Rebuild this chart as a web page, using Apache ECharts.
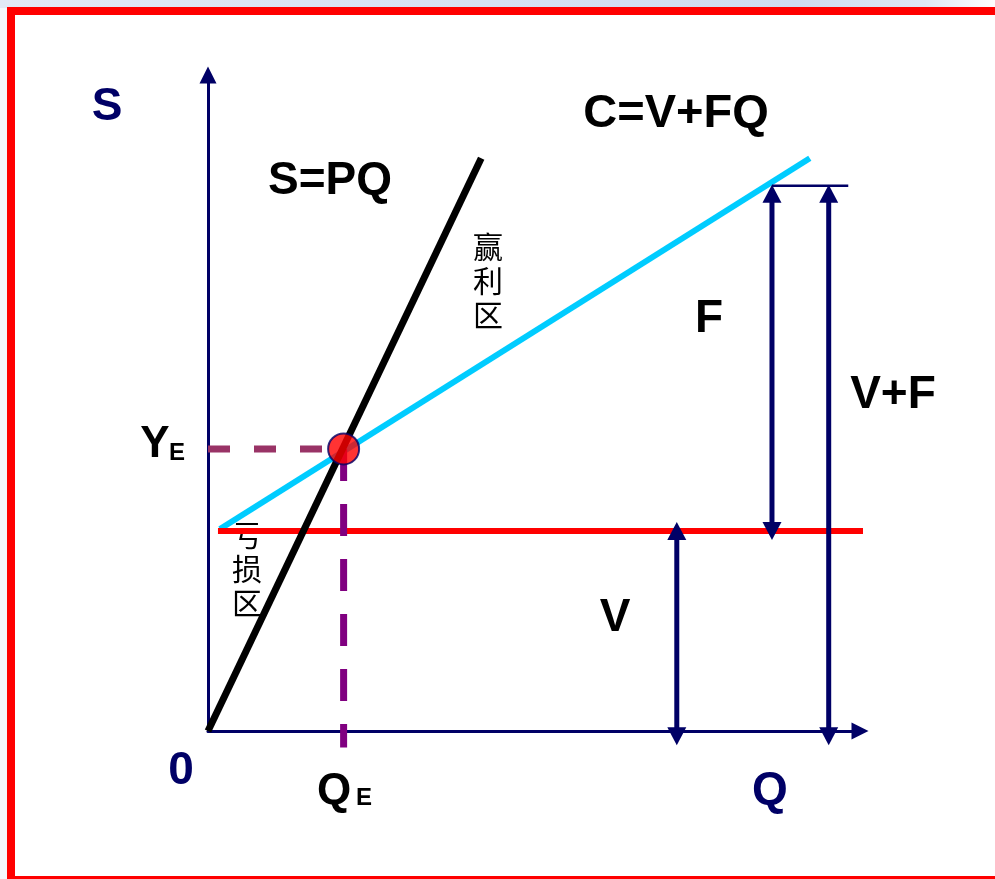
<!DOCTYPE html>
<html>
<head>
<meta charset="utf-8">
<script src="https://cdn.jsdelivr.net/npm/echarts@6/dist/echarts.min.js"></script>
<style>
html,body{margin:0;padding:0;background:#fff;}
#chart{width:995px;height:879px;}
</style>
</head>
<body>
<div id="chart"></div>
<script>
// ---- data (abstract units: Q on x 0..100, S on y 0..100) ----
const qE = 20.8;           // break-even quantity
const yE = 43.0;           // break-even revenue
const fixedV = 30.5;       // V level
const topLevel = 83.1;     // V+F level
const salesLine = [[0, 0], [41.9, 87.3]];          // S=PQ
const costLine = [[1.84, 30.8], [92.3, 87.3]];     // C=V+FQ
const fixedLine = [[1.53, fixedV], [101.2, fixedV]];
const breakEven = [[qE, yE]];
const yEGuide = [[0, yE], [qE, yE]];
const qEGuide = [[qE, yE], [qE, -2.5]];
const arrowF = [[86.5, 81.9], [86.5, fixedV]];
const arrowVF = [[95.2, 81.9], [95.2, -0.8]];
const arrowV = [[71.9, fixedV], [71.9, -0.8]];
const topBar = [[86.5, topLevel], [98.2, topLevel]];

const NAVY = '#000066';
const chart = echarts.init(document.getElementById('chart'), null, {renderer: 'canvas'});

function arrowSeries(pts, upFirst) {
  return {
    type: 'line', clip: false, z: 5, silent: true,
    symbolSize: [19, 18],
    lineStyle: {color: NAVY, width: 5},
    itemStyle: {color: NAVY},
    data: pts.map((p, i) => ({
      value: p,
      symbol: 'triangle',
      symbolRotate: (i === 0) === upFirst ? 0 : 180
    }))
  };
}

const bold = (s) => 'bold ' + s + 'px "Liberation Sans", Arial, sans-serif';
const cjk = (s) => 'normal ' + s + 'px "Noto Sans CJK SC", sans-serif';
function txt(x, y, text, font, fill, lh, z) {
  const st = {text: text, font: font, fill: fill, align: 'center', verticalAlign: 'middle'};
  if (lh) st.lineHeight = lh;
  return {type: 'text', x: x, y: y, z: z || 100, style: st};
}

chart.setOption({
  animation: false,
  backgroundColor: 'transparent',
  grid: {left: 208, right: 135, top: 75, bottom: 148},
  xAxis: {
    type: 'value', min: 0, max: 100,
    axisLine: {show: true, onZero: true, symbol: ['none', 'triangle'], symbolSize: [17, 17],
      lineStyle: {color: NAVY, width: 3}},
    axisTick: {show: false}, axisLabel: {show: false}, splitLine: {show: false}
  },
  yAxis: {
    type: 'value', min: 0, max: 100,
    axisLine: {show: true, symbol: ['none', 'triangle'], symbolSize: [17, 17],
      lineStyle: {color: NAVY, width: 3}},
    axisTick: {show: false}, axisLabel: {show: false}, splitLine: {show: false}
  },
  graphic: [
    {type: 'rect', z: -10, shape: {x: 0, y: 0, width: 995, height: 879}, style: {fill: '#f4f7fc'}},
    {type: 'rect', z: -10, shape: {x: 0, y: 0, width: 995, height: 8},
      style: {fill: new echarts.graphic.LinearGradient(0, 0, 1, 0, [
        {offset: 0, color: '#e2e9f6'}, {offset: 0.8, color: '#cfdcf1'},
        {offset: 0.93, color: '#dfe7f4'}, {offset: 1, color: '#ffffff'}])}},
    {type: 'rect', z: -9, shape: {x: 11, y: 11, width: 1000, height: 869},
      style: {fill: '#ffffff', stroke: '#ff0000', lineWidth: 8}},
    txt(107, 107, 'S', bold(46), NAVY),
    txt(676, 114, 'C=V+FQ', bold(47), '#000000'),
    txt(330, 181, 'S=PQ', bold(46), '#000000'),
    txt(488, 281, '赢\n利\n区', cjk(30), '#000000', 34),
    txt(709, 319, 'F', bold(46), '#000000'),
    txt(893, 395, 'V+F', bold(46), '#000000'),
    txt(155, 445, 'Y', bold(44), '#000000'),
    txt(177, 453, 'E', bold(24), '#000000'),
    txt(247, 569, '亏\n损\n区', cjk(30), '#000000', 34, 1),
    txt(615, 618, 'V', bold(46), '#000000'),
    txt(181, 771, '0', bold(46), NAVY),
    txt(334, 792, 'Q', bold(44), '#000000'),
    txt(364, 798, 'E', bold(24), '#000000'),
    txt(770, 791, 'Q', bold(46), NAVY)
  ],
  series: [
    {type: 'line', clip: false, z: 2, symbol: 'none', silent: true,
      lineStyle: {color: '#00ccff', width: 6}, data: costLine},
    {type: 'line', clip: false, z: 2, symbol: 'none', silent: true,
      lineStyle: {color: '#ff0000', width: 6}, data: fixedLine},
    {type: 'line', clip: false, z: 3, symbol: 'none', silent: true,
      lineStyle: {color: '#800080', width: 7, type: [32, 23]}, data: qEGuide},
    {type: 'line', clip: false, z: 3, symbol: 'none', silent: true,
      lineStyle: {color: '#000000', width: 7}, data: salesLine},
    {type: 'line', clip: false, z: 3, symbol: 'none', silent: true,
      lineStyle: {color: '#993366', width: 7, type: [22, 24]}, data: yEGuide},
    {type: 'line', clip: false, z: 4, symbol: 'none', silent: true,
      lineStyle: {color: NAVY, width: 2.5}, data: topBar},
    arrowSeries(arrowF, true),
    arrowSeries(arrowVF, true),
    arrowSeries(arrowV, true),
    {type: 'scatter', z: 6, silent: true, symbol: 'circle', symbolSize: 31,
      itemStyle: {color: '#ff0000', borderColor: NAVY, borderWidth: 2}, data: breakEven}
  ]
});
</script>
</body>
</html>
